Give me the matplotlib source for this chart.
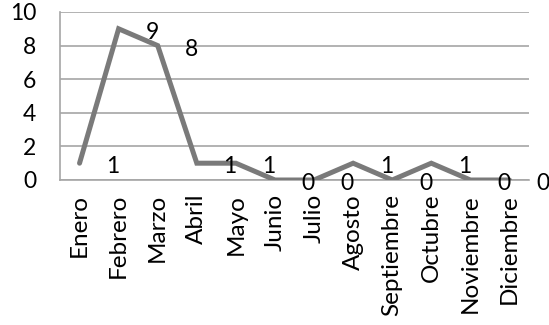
import matplotlib
matplotlib.use("Agg")
import matplotlib.pyplot as plt

plt.rcParams["font.family"] = ["Lato", "DejaVu Sans"]

meses = ["Enero", "Febrero", "Marzo", "Abril", "Mayo", "Junio", "Julio",
         "Agosto", "Septiembre", "Octubre", "Noviembre", "Diciembre"]
valores = [1, 9, 8, 1, 1, 0, 0, 1, 0, 1, 0, 0]
y_ticks = [0, 2, 4, 6, 8, 10]

fig = plt.figure(figsize=(5.49, 3.25), dpi=100)
ax = fig.add_axes([60 / 549, 1 - 180 / 325, 469 / 549, 168 / 325])

x = list(range(len(meses)))

ax.plot(
    x,
    valores,
    color="#7a7a7a",
    linewidth=3.6,
    solid_capstyle="round",
    solid_joinstyle="miter",
    zorder=3
)

for xi, v in zip(x, valores):
    ax.annotate(
        str(v),
        (xi, v),
        xytext=(24, -2.5),
        textcoords="offset points",
        ha="center",
        va="center",
        fontsize=16.5,
        color="black",
        annotation_clip=False,
        zorder=4
    )

ax.set_xlim(-0.5, len(meses) - 0.5)
ax.set_ylim(0, 10)
ax.set_yticks(y_ticks)
ax.set_xticks(x)
ax.set_xticklabels(meses, rotation=90, fontsize=17.5)
ax.tick_params(axis="y", labelsize=16.5, length=0, pad=17)
ax.tick_params(axis="x", length=0, pad=10)

ax.grid(True, axis="y", color="#a6a6a6", linewidth=1.2)
ax.set_axisbelow(True)

for side in ["top", "right"]:
    ax.spines[side].set_visible(False)
for side in ["left", "bottom"]:
    ax.spines[side].set_color("#a6a6a6")
    ax.spines[side].set_linewidth(1.2)

plt.savefig("out.png", dpi=100)
plt.close()
